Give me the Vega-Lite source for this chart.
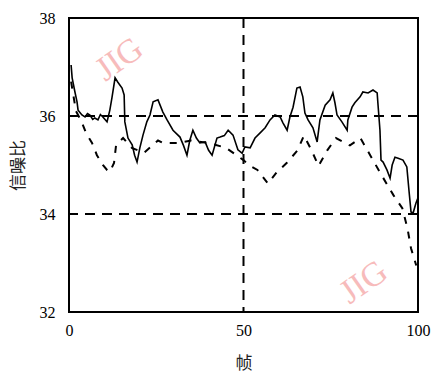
{
  "$schema": "https://vega.github.io/schema/vega-lite/v6.json",
  "width": 349,
  "height": 294,
  "autosize": {"type": "none"},
  "padding": {"left": 69, "top": 18, "right": 14, "bottom": 62},
  "background": "white",
  "config": {
    "view": {"stroke": "black", "strokeWidth": 2},
    "axis": {"grid": false, "ticks": false, "tickSize": 0, "domain": false, "labelFont": "Liberation Serif", "labelFontSize": 16, "labelColor": "black", "titleFont": "Noto Sans CJK SC", "titleFontSize": 17, "titleFontWeight": "normal", "titleColor": "#222"}
  },
  "datasets": {
    "solid": [
      {"f": 0.6, "v": 37.04}, {"f": 0.9, "v": 36.78}, {"f": 1.7, "v": 36.49}, {"f": 2.3, "v": 36.29}, {"f": 2.6, "v": 36.12},
      {"f": 3.7, "v": 36.02}, {"f": 4.6, "v": 35.98}, {"f": 5.3, "v": 36.05}, {"f": 6.0, "v": 36.02}, {"f": 6.8, "v": 35.93}, {"f": 7.4, "v": 35.96},
      {"f": 8.3, "v": 35.92}, {"f": 9.0, "v": 36.03}, {"f": 9.7, "v": 35.98}, {"f": 10.9, "v": 35.88}, {"f": 11.7, "v": 36.12},
      {"f": 12.3, "v": 36.37}, {"f": 13.2, "v": 36.78}, {"f": 14.0, "v": 36.69}, {"f": 15.2, "v": 36.57}, {"f": 15.8, "v": 36.43},
      {"f": 16.0, "v": 35.88}, {"f": 16.9, "v": 35.55}, {"f": 18.1, "v": 35.41}, {"f": 18.8, "v": 35.2}, {"f": 19.5, "v": 35.06},
      {"f": 20.3, "v": 35.35}, {"f": 21.2, "v": 35.61}, {"f": 22.3, "v": 35.88}, {"f": 23.2, "v": 36.02}, {"f": 24.1, "v": 36.29},
      {"f": 25.5, "v": 36.33}, {"f": 26.9, "v": 36.08}, {"f": 28.1, "v": 35.92}, {"f": 29.8, "v": 35.71}, {"f": 31.8, "v": 35.57},
      {"f": 32.8, "v": 35.4}, {"f": 33.8, "v": 35.2}, {"f": 34.6, "v": 35.5}, {"f": 35.5, "v": 35.71}, {"f": 36.5, "v": 35.55}, {"f": 37.5, "v": 35.45},
      {"f": 39.0, "v": 35.47}, {"f": 40.0, "v": 35.3}, {"f": 41.0, "v": 35.2}, {"f": 42.4, "v": 35.55}, {"f": 43.3, "v": 35.57},
      {"f": 44.5, "v": 35.6}, {"f": 45.6, "v": 35.71}, {"f": 47.0, "v": 35.61}, {"f": 48.4, "v": 35.31}, {"f": 49.6, "v": 35.24},
      {"f": 50.4, "v": 35.37}, {"f": 51.9, "v": 35.35}, {"f": 53.3, "v": 35.55}, {"f": 54.7, "v": 35.65}, {"f": 56.2, "v": 35.76},
      {"f": 57.6, "v": 35.92}, {"f": 59.0, "v": 36.02}, {"f": 60.5, "v": 35.98}, {"f": 61.3, "v": 35.86}, {"f": 62.5, "v": 35.71},
      {"f": 63.3, "v": 35.98}, {"f": 64.2, "v": 36.18}, {"f": 65.3, "v": 36.57}, {"f": 66.2, "v": 36.59}, {"f": 67.0, "v": 36.39},
      {"f": 67.6, "v": 36.06}, {"f": 68.5, "v": 35.92}, {"f": 69.9, "v": 35.76}, {"f": 71.1, "v": 35.47}, {"f": 71.9, "v": 35.92},
      {"f": 73.4, "v": 36.22}, {"f": 74.8, "v": 36.33}, {"f": 75.6, "v": 36.47}, {"f": 76.2, "v": 36.27}, {"f": 76.8, "v": 36.02},
      {"f": 78.2, "v": 35.88}, {"f": 79.7, "v": 35.71}, {"f": 79.9, "v": 35.92}, {"f": 81.1, "v": 36.18}, {"f": 81.9, "v": 36.27},
      {"f": 83.4, "v": 36.39}, {"f": 84.2, "v": 36.49}, {"f": 85.7, "v": 36.47}, {"f": 87.1, "v": 36.53}, {"f": 88.3, "v": 36.47},
      {"f": 88.5, "v": 36.27}, {"f": 89.1, "v": 35.71}, {"f": 89.4, "v": 35.1}, {"f": 90.0, "v": 35.06}, {"f": 91.1, "v": 34.9},
      {"f": 92.0, "v": 34.73}, {"f": 92.6, "v": 35.0}, {"f": 93.4, "v": 35.16}, {"f": 94.3, "v": 35.14}, {"f": 95.7, "v": 35.1},
      {"f": 96.8, "v": 34.96}, {"f": 97.4, "v": 34.49}, {"f": 98.0, "v": 34.04}, {"f": 98.6, "v": 34.02}, {"f": 99.4, "v": 34.22},
      {"f": 100, "v": 34.33}
    ],
    "dashed": [
      {"f": 0.6, "v": 36.7}, {"f": 2.0, "v": 36.1}, {"f": 3.5, "v": 35.9}, {"f": 4.9, "v": 35.65}, {"f": 6.6, "v": 35.45},
      {"f": 8.0, "v": 35.2}, {"f": 9.7, "v": 35.0}, {"f": 10.9, "v": 34.9}, {"f": 11.7, "v": 34.86}, {"f": 12.9, "v": 35.04},
      {"f": 13.5, "v": 35.41}, {"f": 15.5, "v": 35.55}, {"f": 18.0, "v": 35.35}, {"f": 21.5, "v": 35.25}, {"f": 25.5, "v": 35.5},
      {"f": 27.0, "v": 35.45}, {"f": 31.0, "v": 35.45}, {"f": 35.0, "v": 35.5}, {"f": 40.0, "v": 35.45}, {"f": 45.0, "v": 35.35},
      {"f": 48.0, "v": 35.2}, {"f": 50.0, "v": 35.1}, {"f": 51.5, "v": 35.0}, {"f": 54.0, "v": 34.9}, {"f": 57.0, "v": 34.62},
      {"f": 59.5, "v": 34.85}, {"f": 62.5, "v": 35.05}, {"f": 65.5, "v": 35.3}, {"f": 67.3, "v": 35.6}, {"f": 69.5, "v": 35.3},
      {"f": 71.5, "v": 34.98}, {"f": 74.0, "v": 35.3}, {"f": 76.5, "v": 35.55}, {"f": 80.5, "v": 35.4}, {"f": 83.5, "v": 35.55},
      {"f": 86.3, "v": 35.2}, {"f": 89.5, "v": 34.8}, {"f": 93.0, "v": 34.38}, {"f": 95.5, "v": 34.12}, {"f": 97.0, "v": 33.7},
      {"f": 98.0, "v": 33.3}, {"f": 99.5, "v": 32.95}
    ],
    "hrules": [{"v": 36}, {"v": 34}],
    "vrules": [{"f": 50}],
    "marks": [{"f": 14.5, "v": 37.15, "t": "JIG"}, {"f": 84.5, "v": 32.6, "t": "JIG"}]
  },
  "layer": [
    {
      "data": {"name": "marks"},
      "mark": {"type": "text", "font": "Liberation Serif", "fontSize": 34, "angle": 325, "color": "#f5a5a5", "opacity": 0.75, "align": "center", "baseline": "middle"},
      "encoding": {
        "x": {"field": "f", "type": "quantitative", "scale": {"domain": [0, 100], "nice": false}, "axis": {"values": [0, 50, 100], "labelFlush": false, "labelPadding": 10, "title": "帧", "titleY": 51, "titleBaseline": "middle"}},
        "y": {"field": "v", "type": "quantitative", "scale": {"domain": [32, 38], "nice": false, "zero": false}, "axis": {"values": [32, 34, 36, 38], "labelPadding": 14, "title": "信噪比", "titleX": -51, "titleY": 147, "titleAngle": -90, "titleBaseline": "middle", "titleAlign": "center"}},
        "text": {"field": "t"}
      }
    },
    {
      "data": {"name": "hrules"},
      "mark": {"type": "rule", "color": "black", "strokeWidth": 2, "strokeDash": [10, 7]},
      "encoding": {"y": {"field": "v", "type": "quantitative"}}
    },
    {
      "data": {"name": "vrules"},
      "mark": {"type": "rule", "color": "black", "strokeWidth": 2, "strokeDash": [10, 7]},
      "encoding": {"x": {"field": "f", "type": "quantitative"}}
    },
    {
      "data": {"name": "dashed"},
      "mark": {"type": "line", "color": "black", "strokeWidth": 2, "strokeDash": [7, 8]},
      "encoding": {"x": {"field": "f", "type": "quantitative"}, "y": {"field": "v", "type": "quantitative"}}
    },
    {
      "data": {"name": "solid"},
      "mark": {"type": "line", "color": "black", "strokeWidth": 1.6},
      "encoding": {"x": {"field": "f", "type": "quantitative"}, "y": {"field": "v", "type": "quantitative"}}
    }
  ]
}
